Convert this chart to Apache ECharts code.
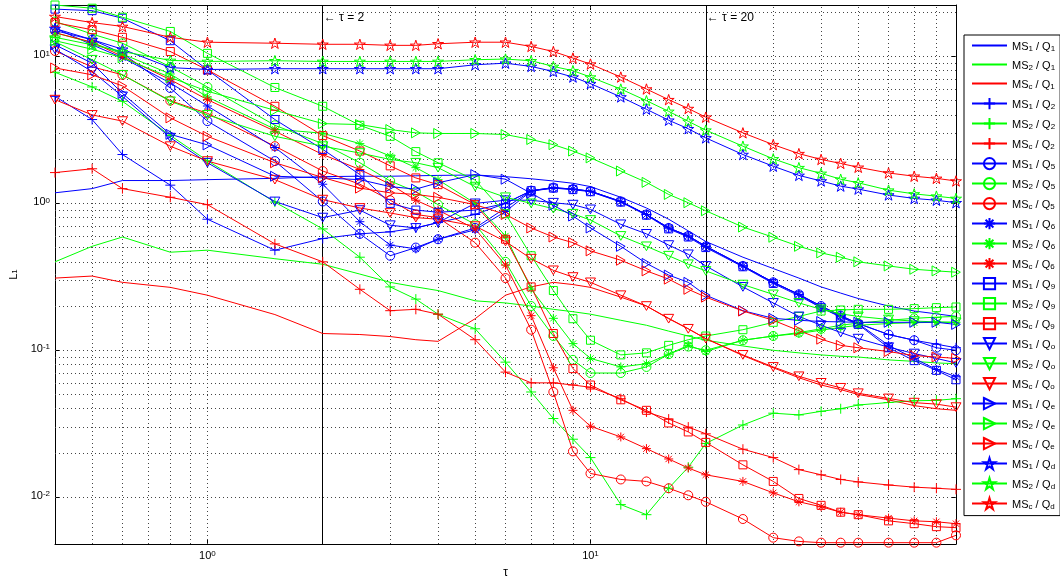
<!DOCTYPE html>
<html>
<head>
<meta charset="utf-8">
<title>L1 vs tau</title>
<script src="https://cdn.jsdelivr.net/npm/echarts@6/dist/echarts.min.js"></script>
<style>
  html, body { margin: 0; padding: 0; background: #fff; }
  #chart { width: 1060px; height: 584px; }
</style>
</head>
<body>
<div id="chart"></div>
<script>
// tau values shared by every curve
var tau = [0.4, 0.5, 0.6, 0.8, 1, 1.5, 2, 2.5, 3, 3.5, 4, 5, 6, 7, 8, 9, 10, 12, 14, 16, 18, 20, 25, 30, 35, 40, 45, 50, 60, 70, 80, 90];

// Q1
var ms1_q1 = [1.18, 1.26, 1.43, 1.43, 1.45, 1.48, 1.52, 1.53, 1.53, 1.54, 1.55, 1.56, 1.52, 1.47, 1.42, 1.37, 1.3, 1.1, 0.93, 0.78, 0.65, 0.55, 0.43, 0.36, 0.31, 0.27, 0.245, 0.225, 0.2, 0.185, 0.177, 0.17];
var ms2_q1 = [0.40, 0.51, 0.59, 0.465, 0.48, 0.42, 0.385, 0.33, 0.29, 0.27, 0.255, 0.217, 0.21, 0.2, 0.19, 0.183, 0.176, 0.16, 0.148, 0.135, 0.125, 0.117, 0.107, 0.1, 0.096, 0.093, 0.091, 0.09, 0.086, 0.084, 0.082, 0.081];
var msc_q1 = [0.31, 0.32, 0.29, 0.268, 0.237, 0.175, 0.13, 0.128, 0.124, 0.118, 0.115, 0.164, 0.237, 0.27, 0.29, 0.28, 0.268, 0.23, 0.2, 0.165, 0.14, 0.12, 0.092, 0.076, 0.065, 0.058, 0.054, 0.05, 0.046, 0.042, 0.04, 0.039];
// Q2
var ms1_q2 = [5.35, 3.72, 2.15, 1.33, 0.78, 0.48, 0.576, 0.62, 0.64, 0.68, 0.74, 0.84, 1.0, 1.22, 1.28, 1.25, 1.21, 1.03, 0.84, 0.68, 0.6, 0.51, 0.375, 0.29, 0.24, 0.2, 0.172, 0.152, 0.128, 0.117, 0.11, 0.104];
var ms2_q2 = [7.8, 6.2, 4.95, 2.9, 1.95, 1.02, 0.67, 0.43, 0.27, 0.223, 0.176, 0.14, 0.083, 0.052, 0.0343, 0.0248, 0.0186, 0.0089, 0.0076, 0.0115, 0.016, 0.0232, 0.031, 0.0373, 0.0363, 0.0384, 0.040, 0.0424, 0.0441, 0.0453, 0.0456, 0.0468];
var msc_q2 = [1.62, 1.72, 1.26, 1.1, 0.98, 0.53, 0.4, 0.26, 0.186, 0.19, 0.176, 0.118, 0.071, 0.06, 0.06, 0.058, 0.056, 0.0468, 0.038, 0.034, 0.03, 0.027, 0.0212, 0.0186, 0.0154, 0.0142, 0.0132, 0.0127, 0.0121, 0.0117, 0.0115, 0.0113];
// Q5
var ms1_q5 = [15, 13, 10.5, 6.1, 3.63, 1.94, 1.03, 0.62, 0.44, 0.5, 0.57, 0.68, 0.93, 1.22, 1.28, 1.25, 1.21, 1.03, 0.84, 0.68, 0.6, 0.51, 0.375, 0.29, 0.24, 0.2, 0.172, 0.152, 0.128, 0.117, 0.104, 0.1];
var ms2_q5 = [17.3, 14.2, 12.3, 8.5, 6.2, 3.4, 2.55, 1.89, 1.42, 1.2, 0.98, 0.72, 0.4, 0.2, 0.125, 0.086, 0.07, 0.07, 0.077, 0.094, 0.106, 0.1, 0.117, 0.125, 0.132, 0.14, 0.148, 0.153, 0.16, 0.165, 0.168, 0.17];
var msc_q5 = [10.9, 8.5, 7.5, 5.0, 4.1, 2.45, 1.66, 1.35, 1.05, 0.84, 0.8, 0.54, 0.31, 0.138, 0.052, 0.0205, 0.0145, 0.0132, 0.0128, 0.0115, 0.0103, 0.0093, 0.0071, 0.0053, 0.005, 0.0049, 0.0049, 0.0049, 0.0049, 0.0049, 0.0049, 0.0055];
// Q6
var ms1_q6 = [15.6, 12.0, 9.8, 6.6, 4.6, 2.4, 1.35, 0.75, 0.52, 0.49, 0.57, 0.66, 0.88, 1.21, 1.27, 1.25, 1.21, 1.03, 0.84, 0.68, 0.6, 0.51, 0.375, 0.29, 0.24, 0.195, 0.17, 0.152, 0.108, 0.088, 0.074, 0.066];
var ms2_q6 = [14.5, 12.4, 10.4, 7.6, 5.3, 3.2, 3.0, 2.55, 2.1, 1.75, 1.45, 1.0, 0.6, 0.261, 0.165, 0.111, 0.088, 0.077, 0.081, 0.094, 0.108, 0.098, 0.117, 0.125, 0.13, 0.137, 0.143, 0.148, 0.152, 0.154, 0.155, 0.155];
var msc_q6 = [14.5, 12.5, 10.0, 6.95, 5.08, 3.1, 2.15, 1.7, 1.35, 1.05, 0.9, 0.67, 0.38, 0.172, 0.076, 0.039, 0.0304, 0.0257, 0.0214, 0.0182, 0.0158, 0.0142, 0.0128, 0.0107, 0.0093, 0.0086, 0.0079, 0.0076, 0.0072, 0.0069, 0.0068, 0.0066];
// Q9
var ms1_q9 = [21, 20.5, 18.2, 12.8, 8.1, 3.72, 2.33, 1.57, 1.0, 0.9, 0.87, 0.9, 1.0, 1.22, 1.27, 1.24, 1.2, 1.02, 0.83, 0.67, 0.59, 0.5, 0.37, 0.285, 0.235, 0.195, 0.168, 0.15, 0.104, 0.085, 0.073, 0.063];
var ms2_q9 = [22.4, 21.3, 18.5, 14.8, 10.5, 6.15, 4.58, 3.4, 2.86, 2.25, 1.89, 1.44, 0.85, 0.44, 0.255, 0.164, 0.117, 0.093, 0.096, 0.108, 0.118, 0.125, 0.138, 0.155, 0.17, 0.185, 0.188, 0.19, 0.19, 0.192, 0.195, 0.197];
var msc_q9 = [17, 15.2, 13.5, 10.8, 8.1, 4.58, 2.89, 2.27, 1.8, 1.49, 1.34, 0.98, 0.57, 0.27, 0.13, 0.075, 0.058, 0.046, 0.039, 0.032, 0.0278, 0.0236, 0.0166, 0.0128, 0.0098, 0.0088, 0.0079, 0.0076, 0.0069, 0.0066, 0.0063, 0.0062];
// Qo
var ms1_qo = [11.2, 7.9, 5.35, 2.8, 1.89, 1.03, 0.8, 0.9, 0.71, 0.68, 0.74, 1.0, 1.05, 1.05, 1.01, 0.98, 0.91, 0.72, 0.62, 0.52, 0.45, 0.375, 0.27, 0.21, 0.17, 0.148, 0.132, 0.12, 0.105, 0.095, 0.088, 0.082];
var ms2_qo = [12.6, 9.5, 7.5, 4.95, 4.0, 2.86, 2.45, 2.2, 1.99, 1.89, 1.75, 1.3, 1.1, 1.0, 0.92, 0.85, 0.77, 0.6, 0.51, 0.44, 0.385, 0.347, 0.28, 0.24, 0.21, 0.19, 0.177, 0.17, 0.162, 0.158, 0.156, 0.155];
var msc_qo = [5.08, 4.0, 3.63, 2.45, 1.94, 1.45, 1.06, 0.93, 0.86, 0.8, 0.78, 0.7, 0.55, 0.42, 0.35, 0.315, 0.29, 0.237, 0.2, 0.164, 0.14, 0.12, 0.093, 0.077, 0.0665, 0.06, 0.0555, 0.051, 0.047, 0.044, 0.043, 0.041];
// Qe
var ms1_qe = [12.0, 9.0, 5.6, 2.95, 2.5, 1.53, 1.49, 1.45, 1.3, 1.25, 1.38, 1.57, 1.46, 1.17, 0.97, 0.82, 0.68, 0.51, 0.39, 0.325, 0.29, 0.237, 0.186, 0.165, 0.16, 0.157, 0.156, 0.155, 0.155, 0.155, 0.155, 0.15];
var ms2_qe = [12.8, 11.2, 9.8, 7.2, 5.8, 4.3, 3.49, 3.44, 3.18, 3.02, 2.99, 2.99, 2.94, 2.72, 2.51, 2.27, 2.04, 1.66, 1.39, 1.15, 1.01, 0.89, 0.69, 0.588, 0.51, 0.46, 0.43, 0.4, 0.375, 0.356, 0.347, 0.34];
var msc_qe = [8.35, 7.5, 6.3, 3.82, 2.86, 1.89, 1.5, 1.27, 1.18, 1.15, 1.1, 0.98, 0.84, 0.68, 0.59, 0.54, 0.475, 0.41, 0.347, 0.305, 0.26, 0.23, 0.185, 0.16, 0.136, 0.119, 0.108, 0.104, 0.098, 0.092, 0.09, 0.088];
// Qd
var ms1_qd = [15.5, 13.0, 11.2, 8.4, 8.15, 8.25, 8.25, 8.25, 8.25, 8.25, 8.25, 8.78, 9.0, 8.55, 7.9, 7.24, 6.53, 5.3, 4.37, 3.68, 3.22, 2.79, 2.15, 1.79, 1.55, 1.42, 1.31, 1.25, 1.14, 1.08, 1.05, 1.01];
var ms2_qd = [13.5, 12.0, 10.8, 9.4, 9.25, 9.35, 9.25, 9.25, 9.25, 9.25, 9.25, 9.5, 9.6, 9.35, 8.55, 8.0, 7.24, 6.0, 5.0, 4.23, 3.62, 3.15, 2.45, 2.01, 1.75, 1.6, 1.46, 1.38, 1.23, 1.16, 1.12, 1.08];
var msc_qd = [18.7, 17.0, 16.0, 13.5, 12.5, 12.3, 12.1, 12.1, 11.9, 11.9, 12.2, 12.5, 12.5, 11.7, 10.8, 9.75, 8.87, 7.24, 6.0, 5.08, 4.42, 3.86, 3.02, 2.51, 2.18, 1.99, 1.87, 1.76, 1.61, 1.53, 1.48, 1.42];

// reference lines
var tauMarks = [2, 20];

var FONT = 'Liberation Sans, Arial, Helvetica, sans-serif';
var colors = { '1': '#0000ff', '2': '#00ff00', 'c': '#ff0000' };

// matlab-like open markers
var markers = {
  '1': { symbol: 'none', size: 0 },
  '2': { symbol: 'path://M50,0L50,100M0,50L100,50', size: 10 },
  '5': { symbol: 'circle', size: 9 },
  '6': { symbol: 'path://M50,0L50,100M0,50L100,50M15,15L85,85M85,15L15,85', size: 9 },
  '9': { symbol: 'rect', size: 8 },
  'o': { symbol: 'path://M0,0L100,0L50,87Z', size: 10 },
  'e': { symbol: 'path://M0,0L87,50L0,100Z', size: 10 },
  'd': { symbol: 'path://M50,0L61.23,34.55L97.55,34.55L68.16,55.9L79.39,90.45L50,69.1L20.61,90.45L31.84,55.9L2.45,34.55L38.77,34.55Z', size: 11 }
};

var curves = [
  ['1', '1', ms1_q1], ['2', '1', ms2_q1], ['c', '1', msc_q1],
  ['1', '2', ms1_q2], ['2', '2', ms2_q2], ['c', '2', msc_q2],
  ['1', '5', ms1_q5], ['2', '5', ms2_q5], ['c', '5', msc_q5],
  ['1', '6', ms1_q6], ['2', '6', ms2_q6], ['c', '6', msc_q6],
  ['1', '9', ms1_q9], ['2', '9', ms2_q9], ['c', '9', msc_q9],
  ['1', 'o', ms1_qo], ['2', 'o', ms2_qo], ['c', 'o', msc_qo],
  ['1', 'e', ms1_qe], ['2', 'e', ms2_qe], ['c', 'e', msc_qe],
  ['1', 'd', ms1_qd], ['2', 'd', ms2_qd], ['c', 'd', msc_qd]
];

var names = [];
var series = curves.map(function (c) {
  var name = 'MS' + c[0] + ' / Q' + c[1];
  var col = colors[c[0]];
  var mk = markers[c[1]];
  var noMark = mk.symbol === 'none';
  names.push(name);
  return {
    name: name,
    type: 'line',
    data: tau.map(function (t, i) { return [t, c[2][i]]; }),
    symbol: mk.symbol,
    symbolSize: mk.size,
    symbolKeepAspect: true,
    showSymbol: !noMark,
    clip: false,
    z: 3,
    lineStyle: { color: col, width: 1 },
    // border 0 hides the default legend circle for plain lines
    itemStyle: { color: 'rgba(0,0,0,0)', borderColor: noMark ? 'rgba(0,0,0,0)' : col, borderWidth: noMark ? 0 : 1 },
    emphasis: { disabled: true }
  };
});

// dotted grid lines at every 1..9 x 10^k
var gridX = [], gridY = [];
for (var d = -1; d <= 1; d++) {
  for (var k = 1; k <= 9; k++) {
    var v = +(k * Math.pow(10, d)).toPrecision(6);
    if (v > 0.4 && v < 90) gridX.push(v);
  }
}
for (var d2 = -3; d2 <= 1; d2++) {
  for (var k2 = 1; k2 <= 9; k2++) {
    var w = +(k2 * Math.pow(10, d2)).toPrecision(6);
    if (w > 0.0048 && w < 22.4) gridY.push(w);
  }
}

series.unshift({
  name: 'grid',
  type: 'line',
  data: [],
  silent: true,
  z: 1,
  markLine: {
    silent: true,
    z: 1,
    animation: false,
    symbol: ['none', 'none'],
    label: { show: false },
    lineStyle: { color: '#444', type: [1, 3], width: 1 },
    data: gridX.map(function (v) { return { xAxis: v }; })
      .concat(gridY.map(function (v) { return { yAxis: v }; }))
  }
});

series.unshift({
  name: 'tauLines',
  type: 'line',
  data: [],
  silent: true,
  z: 2,
  markLine: {
    silent: true,
    z: 2,
    animation: false,
    symbol: ['none', 'none'],
    label: { show: false },
    lineStyle: { color: '#000', type: 'solid', width: 1 },
    data: tauMarks.map(function (v) { return { xAxis: v }; })
  },
  markPoint: {
    silent: true,
    animation: false,
    symbol: 'circle',
    symbolSize: 0,
    label: { show: true, position: 'right', distance: 1, formatter: '{b}', color: '#000', fontSize: 12, fontFamily: FONT },
    data: tauMarks.map(function (v) { return { name: '\u2190 \u03c4 = ' + v, coord: [v, 18.3] }; })
  }
});

var powRich = {
  b: { fontSize: 11, fontFamily: FONT, color: '#000', lineHeight: 14, verticalAlign: 'top' },
  e: { fontSize: 8, fontFamily: FONT, color: '#000', lineHeight: 6, verticalAlign: 'top' }
};
function powLabel(v) {
  var e = Math.log10(v);
  if (Math.abs(e - Math.round(e)) > 1e-6) return '';
  return '{b|10}{e|' + Math.round(e) + '}';
}

var subRich = {
  n: { fontSize: 11, fontFamily: FONT, color: '#000', lineHeight: 14, verticalAlign: 'bottom' },
  s: { fontSize: 8, fontFamily: FONT, color: '#000', lineHeight: 8, verticalAlign: 'bottom' }
};

var chart = echarts.init(document.getElementById('chart'));
chart.setOption({
  animation: false,
  backgroundColor: '#fff',
  grid: { left: 55, right: 104, top: 5, bottom: 39 },
  legend: {
    orient: 'vertical',
    left: 964,
    top: 35,
    data: names,
    selectedMode: false,
    itemWidth: 35,
    itemHeight: 14,
    itemGap: 6.4,
    padding: [5, 5, 5, 7],
    borderColor: '#000',
    borderWidth: 1,
    backgroundColor: '#fff',
    formatter: function (name) {
      var m = name.match(/^MS(\w) \/ Q(\w)$/);
      return '{n|MS}{s|' + m[1] + '}{n| / Q}{s|' + m[2] + '}';
    },
    textStyle: { rich: subRich }
  },
  xAxis: [{
    type: 'log',
    logBase: 10,
    min: 0.4,
    max: 90,
    position: 'bottom',
    axisLine: { onZero: false, lineStyle: { color: '#000', width: 1 } },
    axisTick: { inside: true, length: 5, lineStyle: { color: '#000' } },
    splitLine: { show: false },
    axisLabel: { formatter: powLabel, rich: powRich, margin: 6 },
    name: '\u03c4',
    nameLocation: 'middle',
    nameGap: 23,
    nameTextStyle: { color: '#000', fontSize: 12, fontFamily: FONT }
  }, {
    type: 'log',
    logBase: 10,
    min: 0.4,
    max: 90,
    position: 'top',
    axisLine: { onZero: false, lineStyle: { color: '#000', width: 1 } },
    axisTick: { inside: true, length: 5, lineStyle: { color: '#000' } },
    splitLine: { show: false },
    axisLabel: { show: false }
  }],
  yAxis: [{
    type: 'log',
    logBase: 10,
    min: 0.0048,
    max: 22.4,
    position: 'left',
    axisLine: { show: true, onZero: false, lineStyle: { color: '#000', width: 1 } },
    axisTick: { show: true, inside: true, length: 5, lineStyle: { color: '#000' } },
    splitLine: { show: false },
    axisLabel: { formatter: powLabel, rich: powRich, margin: 5 },
    name: '{n|L}{s|1}',
    nameLocation: 'middle',
    nameRotate: 90,
    nameGap: 36,
    nameTextStyle: { rich: subRich }
  }, {
    type: 'log',
    logBase: 10,
    min: 0.0048,
    max: 22.4,
    position: 'right',
    axisLine: { show: true, onZero: false, lineStyle: { color: '#000', width: 1 } },
    axisTick: { show: true, inside: true, length: 5, lineStyle: { color: '#000' } },
    splitLine: { show: false },
    axisLabel: { show: false }
  }],
  series: series
});
</script>
</body>
</html>
